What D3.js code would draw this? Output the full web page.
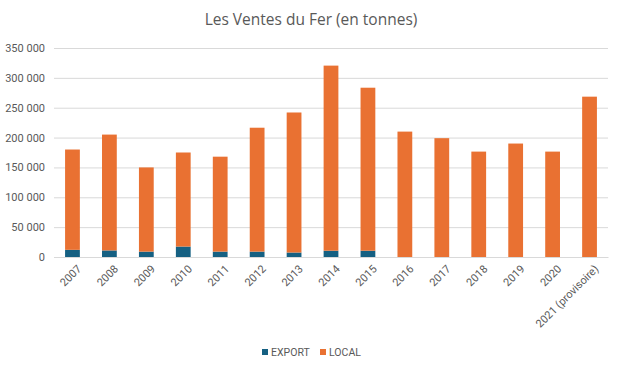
<!DOCTYPE html>
<html>
<head>
<meta charset="utf-8">
<script src="https://cdn.jsdelivr.net/npm/d3@7"></script>
<style>
  body { margin: 0; background: #fff; }
  text { font-family: "Liberation Sans Narrow", "Roboto", sans-serif; fill: #595959; }
  .title { font-family: "Open Sans", "Roboto", sans-serif; }
</style>
</head>
<body>
<svg id="chart" width="622" height="371"></svg>
<script>
var years = ["2007", "2008", "2009", "2010", "2011", "2012", "2013", "2014", "2015",
    "2016", "2017", "2018", "2019", "2020", "2021 (provisoire)"];
var exportValues = [12000, 11000, 9000, 17500, 9000, 9000, 7500, 10500, 10500, 0, 0, 0, 0, 0, 0];
var localValues = [168000, 194000, 141000, 157500, 159000, 207500, 234500, 310000, 273000,
    210000, 199000, 176500, 190000, 176500, 268500];
var yTicks = [0, 50000, 100000, 150000, 200000, 250000, 300000, 350000];

var seriesNames = ["EXPORT", "LOCAL"];
var colors = {EXPORT: "#156082", LOCAL: "#E97132"};

var rows = years.map(function(y, i) {
    return {year: y, EXPORT: exportValues[i], LOCAL: localValues[i]};
});

var margin = {top: 48, right: 14, bottom: 114, left: 54};
var width = 622 - margin.left - margin.right;
var height = 371 - margin.top - margin.bottom;

var svg = d3.select("#chart");

// Title
svg.append("text")
    .attr("class", "title")
    .attr("x", 311)
    .attr("y", 25)
    .attr("text-anchor", "middle")
    .style("font-size", "15.5px")
    .text("Les Ventes du Fer (en tonnes)");

var chart = svg.append("g")
    .attr("transform", "translate(" + margin.left + "," + margin.top + ")");

var scaleX = d3.scaleBand().domain(years).range([0, width]).paddingInner(0.6).paddingOuter(0.3);
var scaleY = d3.scaleLinear().domain([0, 350000]).range([height, 0]);

var fmt = function(d) { return d3.format(",")(d).replace(/,/g, " "); };

// gridlines
chart.append("g")
    .attr("class", "grid")
    .call(d3.axisLeft(scaleY).tickValues(yTicks).tickSize(-width).tickFormat(""))
    .call(function(g) {
        g.select(".domain").remove();
        g.selectAll("line").attr("stroke", "#d9d9d9");
    });

// bars
var stack = d3.stack().keys(seriesNames)(rows);

chart.selectAll(".series")
    .data(stack)
    .enter()
    .append("g")
        .attr("fill", function(d) { return colors[d.key]; })
    .selectAll("rect")
    .data(function(d) { return d; })
    .enter()
    .append("rect")
        .attr("x", function(d) { return scaleX(d.data.year); })
        .attr("y", function(d) { return scaleY(d[1]); })
        .attr("height", function(d) { return scaleY(d[0]) - scaleY(d[1]); })
        .attr("width", scaleX.bandwidth());

// y axis
chart.append("g")
    .attr("class", "y axis")
    .call(d3.axisLeft(scaleY).tickValues(yTicks).tickSize(0).tickPadding(9).tickFormat(fmt))
    .call(function(g) {
        g.select(".domain").remove();
        g.selectAll("text").style("font-size", "11px");
    });

// x axis
chart.append("g")
    .attr("class", "x axis")
    .attr("transform", "translate(0," + height + ")")
    .call(d3.axisBottom(scaleX).tickSize(0).tickPadding(6))
    .call(function(g) {
        g.select(".domain").attr("stroke", "#d9d9d9");
        g.selectAll("text")
            .style("font-size", "11px")
            .attr("text-anchor", "end")
            .attr("dy", "0.3em")
            .attr("transform", "translate(3,6) rotate(-45)");
    });

// legend
var legend = svg.append("g")
    .attr("transform", "translate(262,349)");

var item = legend.selectAll(".item")
    .data(seriesNames)
    .enter()
    .append("g")
        .attr("transform", function(d, i) { return "translate(" + (i * 58) + ",0)"; });

item.append("rect")
    .attr("width", 6)
    .attr("height", 6)
    .attr("fill", function(d) { return colors[d]; });

item.append("text")
    .attr("x", 9)
    .attr("y", 6.5)
    .style("font-size", "10.5px")
    .text(function(d) { return d; });
</script>
</body>
</html>
